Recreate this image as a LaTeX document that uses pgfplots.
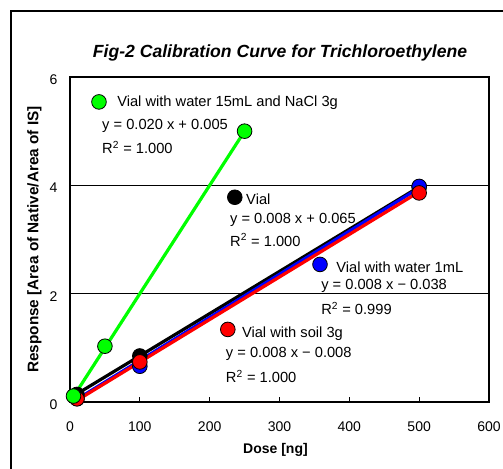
\documentclass[border=0pt]{standalone}
\usepackage{pgfplots}
\pgfplotsset{compat=1.18}
\usepackage{fontspec}
\setmainfont{Liberation Sans}
\begin{document}
\begin{tikzpicture}[x=1pt,y=1pt]
\useasboundingbox (-52.5,-49.5) rectangle (324.75,301.5);
\draw[line width=0.8pt] (-44.25,-60) -- (-44.25,293.25) -- (340,293.25);
\begin{axis}[
  at={(0,0)}, anchor=south west,
  scale only axis, width=314.25pt, height=243.75pt,
  xmin=0, xmax=600, ymin=0, ymax=6,
  xtick={0,100,...,600}, ytick={0,2,4,6},
  ymajorgrids, grid style={black, line width=0.5pt},
  axis line style={line width=1.4pt},
  tick align=inside, major tick length=4pt,
  tick style={black, line width=0.6pt},
  xtick pos=bottom, ytick pos=left,
  /pgf/number format/assume math mode=true,
  tick label style={font=\fontsize{10.5}{12}\selectfont},
  xticklabel style={yshift=-11pt},
  yticklabel style={xshift=-6pt, yshift=-2pt},
  xlabel={\bfseries Dose [ng]},
  ylabel={\bfseries Response [Area of Native/Area of IS]},
  xlabel style={font=\fontsize{10.5}{12}\selectfont, yshift=-2pt, xshift=-3pt},
  ylabel style={font=\fontsize{11.5}{13}\selectfont, yshift=-1pt},
  clip=false,
]
% data markers
\addplot[only marks, mark=*, mark size=5.5pt, mark options={fill=black, draw=black, line width=0.6pt}] coordinates {(10,0.14) (100,0.85) (500,3.97)};
\addplot[only marks, mark=*, mark size=5.5pt, mark options={fill=blue, draw=black, line width=0.6pt}] coordinates {(10,0.06) (100,0.66) (500,3.98)};
\addplot[only marks, mark=*, mark size=5.5pt, mark options={fill=red, draw=black, line width=0.6pt}] coordinates {(10,0.06) (100,0.74) (500,3.86)};
\addplot[only marks, mark=*, mark size=5.5pt, mark options={fill=green, draw=black, line width=0.6pt}] coordinates {(5,0.11) (50,1.03) (250,5.00)};
% trend lines
\addplot[black, line width=2.4pt] coordinates {(10,0.15) (500,3.97)};
\addplot[blue, line width=2.4pt] coordinates {(10,0.05) (500,3.95)};
\addplot[red, line width=2.4pt] coordinates {(10,0.03) (500,3.88)};
\addplot[green, line width=2.4pt] coordinates {(5,0.10) (250,5.00)};
% legend markers
\addplot[only marks, mark=*, mark size=5.5pt, mark options={fill=green, draw=black, line width=0.6pt}] coordinates {(41.5,5.54)};
\addplot[only marks, mark=*, mark size=5.5pt, mark options={fill=black, draw=black, line width=0.6pt}] coordinates {(236,3.78)};
\addplot[only marks, mark=*, mark size=5.5pt, mark options={fill=blue, draw=black, line width=0.6pt}] coordinates {(358,2.54)};
\addplot[only marks, mark=*, mark size=5.5pt, mark options={fill=red, draw=black, line width=0.6pt}] coordinates {(226,1.34)};
% annotations
\begin{scope}[every node/.style={anchor=west, inner sep=0pt, font=\fontsize{11}{13}\selectfont}]
\node at (axis cs:67.3,5.52) {Vial with water 15mL and NaCl 3g};
\node at (axis cs:45.8,5.09) {y = 0.020 x + 0.005};
\node at (axis cs:45.8,4.70) {R\textsuperscript{2} = 1.000};
\node at (axis cs:252,3.74) {Vial};
\node at (axis cs:229,3.37) {y = 0.008 x + 0.065};
\node at (axis cs:229,2.99) {R\textsuperscript{2} = 1.000};
\node at (axis cs:381,2.49) {Vial with water 1mL};
\node at (axis cs:359.5,2.14) {y = 0.008 x − 0.038};
\node at (axis cs:359.5,1.73) {R\textsuperscript{2} = 0.999};
\node at (axis cs:246,1.27) {Vial with soil 3g};
\node at (axis cs:223,0.88) {y = 0.008 x − 0.008};
\node at (axis cs:223,0.47) {R\textsuperscript{2} = 1.000};
\end{scope}
\end{axis}
\node[font=\bfseries\itshape\fontsize{13.2}{15}\selectfont] at (157.5,261.75) {Fig-2 Calibration Curve for Trichloroethylene};
\end{tikzpicture}
\end{document}
